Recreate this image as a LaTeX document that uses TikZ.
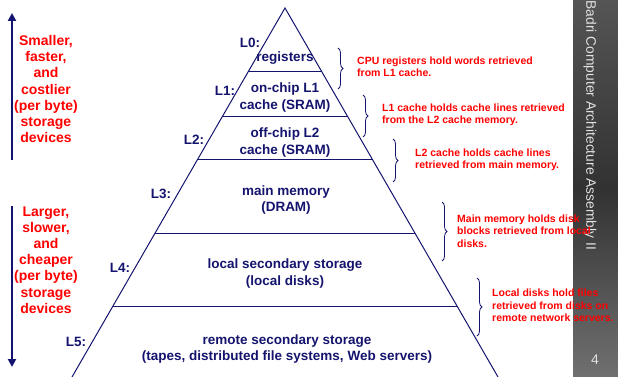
\documentclass[tikz,border=0pt]{standalone}
\usepackage{fontspec}
\setmainfont{Liberation Sans}
\usetikzlibrary{arrows.meta,decorations.pathreplacing,calc}
\definecolor{navy}{RGB}{20,20,110}
\definecolor{redtxt}{RGB}{255,0,0}
\definecolor{sbtop}{RGB}{85,85,85}
\definecolor{sbmid}{RGB}{50,50,50}
\definecolor{sbbot}{RGB}{112,112,112}
\definecolor{sbtext}{RGB}{225,225,225}
\begin{document}
\begin{tikzpicture}[x=1pt,y=-1pt,
  lvl/.style={text=navy,font=\fontsize{13.5}{16.2}\selectfont\bfseries,align=center,inner sep=0pt},
  side/.style={text=redtxt,font=\fontsize{14}{16.2}\selectfont\bfseries,align=center,inner sep=0pt},
  note/.style={text=redtxt,font=\fontsize{10.5}{12.3}\selectfont\bfseries,align=left,inner sep=0pt,anchor=west},
  edge/.style={draw=navy,line width=1pt},
  brc/.style={draw=navy,line width=0.8pt,decorate,decoration={brace,amplitude=5pt}},
  bigarrow/.style={draw=navy,line width=2.2pt,-{Triangle[width=8pt,length=8pt]}}
]
\useasboundingbox (0,0) rectangle (618,377);
% sidebar
\shade[top color=sbtop,bottom color=sbbot,middle color=sbmid] (573,0) rectangle (618,377);
\node[rotate=-90,anchor=west,inner sep=0pt,text=sbtext,font=\fontsize{13.8}{15}\selectfont] (sbt) at (590,0.5) {Badri Computer Architecture Assembly II};
\node[inner sep=0pt,text=sbtext,font=\fontsize{14}{15}\selectfont] (pg) at (595,360) {4};

% pyramid
\coordinate (apex) at (285,8);
\coordinate (bl) at (72,377);
\coordinate (br) at (498,377);
\draw[edge] (bl) -- (apex) -- (br);
\foreach \t in {0.1734,0.2927,0.4106,0.6098,0.8076}
  \draw[edge] ($(apex)!\t!(bl)$) -- ($(apex)!\t!(br)$);

% level texts
\node[lvl] (r0) at (285,58) {registers};
\node[lvl] (r1) at (285,97.5) {on-chip L1\\cache (SRAM)};
\node[lvl] (r2) at (285,142.5) {off-chip L2\\cache (SRAM)};
\node[lvl] (r3) at (286,200) {main memory\\(DRAM)};
\node[lvl] (r4) at (285,273.5) {local secondary storage\\(local disks)};
\node[lvl] (r5) at (287,349) {remote secondary storage\\(tapes, distributed file systems, Web servers)};

\node[lvl] (l0) at (250,43) {L0:};
\node[lvl] (l1) at (225,91) {L1:};
\node[lvl] (l2) at (194,140) {L2:};
\node[lvl] (l3) at (161,194) {L3:};
\node[lvl] (l4) at (120,268) {L4:};
\node[lvl] (l5) at (76,342) {L5:};

% left arrows and texts
\coordinate (ua) at (12,160);
\coordinate (ub) at (12,13);
\coordinate (da) at (12,206);
\coordinate (db) at (12,367);
\draw[bigarrow] (ua) -- (ub);
\draw[bigarrow] (da) -- (db);
\node[side] (up) at (46,89) {Smaller,\\faster,\\and\\costlier\\(per byte)\\storage\\devices};
\node[side] (dn) at (46,260) {Larger,\\slower,\\and\\cheaper\\(per byte)\\storage\\devices};

% braces
\coordinate (b1t) at (338,48);  \coordinate (b1b) at (338,89);
\coordinate (b2t) at (363,95);  \coordinate (b2b) at (363,137);
\coordinate (b3t) at (393,139); \coordinate (b3b) at (393,182);
\coordinate (b4t) at (442,202); \coordinate (b4b) at (442,261);
\coordinate (b5t) at (477,278); \coordinate (b5b) at (477,336);
\draw[brc] (b1t) -- (b1b);
\draw[brc] (b2t) -- (b2b);
\draw[brc] (b3t) -- (b3b);
\draw[brc] (b4t) -- (b4b);
\draw[brc] (b5t) -- (b5b);

\node[note] (n1) at (357,66.5) {CPU registers hold words retrieved\\from L1 cache.};
\node[note] (n2) at (382,115) {L1 cache holds cache lines retrieved\\from the L2 cache memory.};
\node[note] (n3) at (415,160) {L2 cache holds cache lines\\retrieved from main memory.};
\node[note] (n4) at (457,231) {Main memory holds disk\\blocks retrieved from local\\disks.};
\node[note] (n5) at (492,305.5) {Local disks hold files\\retrieved from disks on\\remote network servers.};
\end{tikzpicture}
\end{document}
